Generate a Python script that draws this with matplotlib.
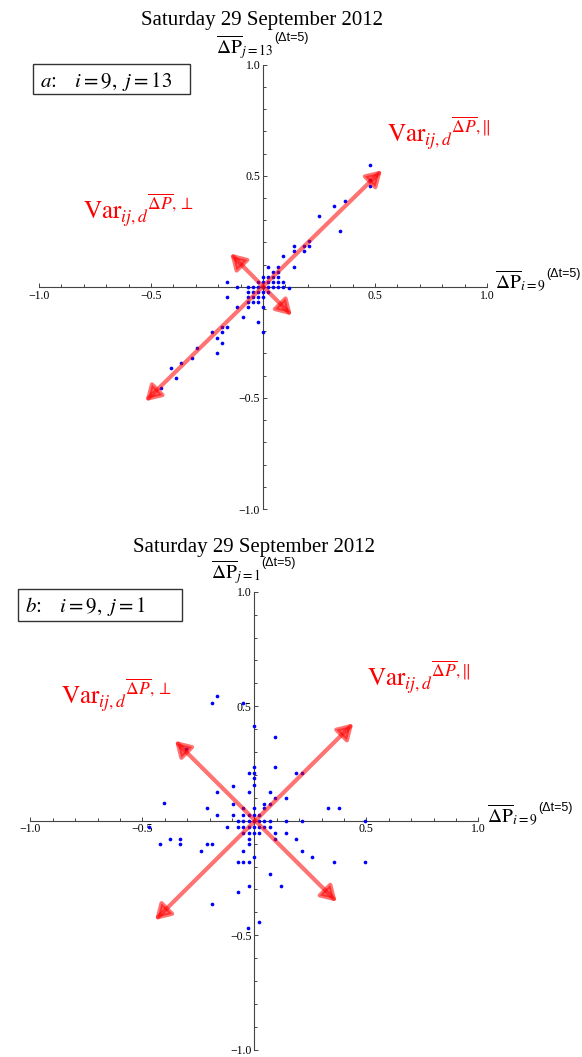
import numpy as np
import matplotlib.pyplot as plt
from matplotlib.patches import FancyArrowPatch, Rectangle

plt.rcParams['font.family'] = ['Liberation Serif', 'DejaVu Serif']
plt.rcParams['mathtext.fontset'] = 'stix'

W, H = 582, 1057

title = "Saturday 29 September 2012"

# panneau a : i = 9, j = 13
xa = [0.479, 0.479, 0.479, 0.319, 0.365, 0.251, 0.342, 0.205, 0.205, 0.182,
      0.137, 0.182, 0.137, 0.091, 0.137, 0.068, 0.023, 0.046, 0.068, 0.023,
      0.046, 0.068, 0.0,
      -0.160, -0.023, 0.0, 0.023, 0.046, 0.068, 0.091,
      -0.114, -0.068, -0.046, -0.023, 0.0, 0.023, 0.046, 0.068, 0.091, 0.114,
      -0.068, -0.046, -0.023, 0.0, 0.023,
      -0.160, -0.068, -0.046, -0.023, 0.0,
      -0.068, -0.046, -0.023,
      -0.114, -0.068, 0.0,
      -0.091, -0.023, 0.0, -0.228, -0.182, -0.160, -0.182, -0.205, -0.182,
      -0.296, -0.205, -0.319, -0.365, -0.410, -0.388, -0.456]
ya = [0.547, 0.479, 0.456, 0.365, 0.388, 0.319, 0.251, 0.205, 0.182, 0.182,
      0.182, 0.160, 0.160, 0.137, 0.091, 0.091, 0.091, 0.068, 0.068, 0.046,
      0.046, 0.046, 0.046,
      0.023, 0.023, 0.023, 0.023, 0.023, 0.023, 0.023,
      0.0, 0.0, 0.0, 0.0, 0.0, 0.0, 0.0, 0.0, 0.0, -0.005,
      -0.023, -0.023, -0.023, -0.023, -0.023,
      -0.046, -0.046, -0.046, -0.046, -0.046,
      -0.068, -0.068, -0.068,
      -0.091, -0.091, -0.091,
      -0.137, -0.160, -0.205, -0.205, -0.205, -0.182, -0.182, -0.228, -0.251,
      -0.274, -0.296, -0.319, -0.342, -0.365, -0.410, -0.456]

# panneau b : i = 9, j = 1
xb = [-0.166, -0.188, -0.049, 0.0, 0.093, -0.306, 0.093, 0.0, -0.024, 0.0,
      0.187, 0.211, 0.0, -0.094, 0.0, -0.166, -0.024, 0.070, 0.093, 0.140,
      -0.401, -0.094, 0.045, 0.070, -0.211, -0.049, 0.0, 0.045, 0.327, 0.377,
      -0.166, -0.094, -0.049, -0.024, 0.0, 0.022,
      -0.072, -0.049, -0.024, 0.0, 0.022, 0.045, 0.070, 0.140, 0.211, 0.496,
      -0.472, -0.121, -0.072, -0.049, -0.024, 0.0, 0.022, 0.045, 0.070,
      -0.049, -0.024, 0.0, 0.022, 0.093, 0.140,
      -0.378, -0.330, -0.024, 0.093, 0.187,
      -0.423, -0.330, -0.211, -0.188, -0.024,
      -0.239, -0.049, 0.211,
      0.257, 0.0,
      -0.072, -0.049, -0.024, 0.354, 0.493,
      0.070, 0.118, -0.024, -0.072, -0.188, 0.022, -0.027]
yb = [0.546, 0.515, 0.515, 0.415, 0.364, 0.312, 0.233, 0.233, 0.207, 0.207,
      0.207, 0.207, 0.185, 0.152, 0.155, 0.126, 0.126, 0.126, 0.100, 0.100,
      0.078, 0.075, 0.075, 0.075, 0.054, 0.054, 0.054, 0.054, 0.054, 0.054,
      0.025, 0.025, 0.025, 0.025, 0.025, 0.025,
      0.0, 0.0, 0.0, 0.0, 0.0, 0.0, 0.0, 0.0, 0.0, 0.0,
      -0.026, -0.026, -0.026, -0.026, -0.026, -0.026, -0.026, -0.026, -0.026,
      -0.052, -0.052, -0.052, -0.052, -0.052, -0.052,
      -0.080, -0.080, -0.080, -0.080, -0.080,
      -0.103, -0.103, -0.103, -0.103, -0.103,
      -0.131, -0.131, -0.131,
      -0.157, -0.157,
      -0.182, -0.182, -0.182, -0.182, -0.182,
      -0.234, -0.286, -0.286, -0.310, -0.364, -0.441, -0.467]

# extrémités des flèches (variance parallèle / perpendiculaire)
fleche_a_par = [(-0.525, -0.515), (0.531, 0.525)]
fleche_a_perp = [(-0.146, 0.150), (0.129, -0.129)]
fleche_b_par = [(-0.443, -0.434), (0.442, 0.425)]
fleche_b_perp = [(-0.354, 0.349), (0.368, -0.354)]

ylab_a = r'$\overline{\Delta\mathrm{P}}_{j{=}13}$'
ylab_b = r'$\overline{\Delta\mathrm{P}}_{j{=}1}$'
xlab = r'$\overline{\Delta\mathrm{P}}_{i{=}9}$'
exposant = '(\u0394t=5)'
var_par = r'$\mathrm{Var}_{ij,d}{}^{\overline{\Delta P},\Vert}$'
var_perp = r'$\mathrm{Var}_{ij,d}{}^{\overline{\Delta P},\perp}$'
box_a = r'$a\!:\ \ \ i=9,\ j=13$'
box_b = r'$b\!:\ \ \ i=9,\ j=1$'


def fig_pos(x, y):
    return x / W, 1 - y / H


def panneau(ax, x, y, fl_par, fl_perp):
    for s in ['top', 'right']:
        ax.spines[s].set_visible(False)
    ax.spines['left'].set_position('zero')
    ax.spines['bottom'].set_position('zero')
    for s in ['left', 'bottom']:
        ax.spines[s].set_color('#444444')
        ax.spines[s].set_linewidth(0.8)
    ax.set_xlim(-1, 1)
    ax.set_ylim(-1, 1)
    ax.set_xticks([-1, -0.5, 0.5, 1])
    ax.set_yticks([-1, -0.5, 0.5, 1])
    ax.set_xticks(np.arange(-1, 1.01, 0.1), minor=True)
    ax.set_yticks(np.arange(-1, 1.01, 0.1), minor=True)
    ax.tick_params(which='both', direction='in', color='#444444', width=0.7,
                   labelsize=8.5, pad=2)
    ax.tick_params(which='major', length=3)
    ax.tick_params(which='minor', length=2)
    ax.patch.set_visible(False)

    ax.scatter(x, y, s=7, color='#0000ff', linewidths=0, zorder=3)
    for p in [fl_par, fl_perp]:
        f = FancyArrowPatch(p[0], p[1],
                            arrowstyle='<|-|>,head_length=0.75,head_width=0.45',
                            mutation_scale=12, color='#ff0000', alpha=0.55,
                            lw=3, shrinkA=0, shrinkB=0, zorder=4)
        ax.add_patch(f)


fig = plt.figure(figsize=(W / 100, H / 100), dpi=100)

ax1 = fig.add_axes([39 / W, 1 - 509 / H, 448 / W, 444.3 / H])
panneau(ax1, xa, ya, fleche_a_par, fleche_a_perp)
ax2 = fig.add_axes([30.3 / W, 1 - 1049.7 / H, 448 / W, 458 / H])
panneau(ax2, xb, yb, fleche_b_par, fleche_b_perp)

# titres
fig.text(*fig_pos(262, 25), title, ha='center', va='baseline', fontsize=15)
fig.text(*fig_pos(254, 552), title, ha='center', va='baseline', fontsize=15)

# étiquettes des axes, exposant (Δt=5) placé après l'indice
fig.canvas.draw()
renderer = fig.canvas.get_renderer()
for x0, y0, lab in [(216, 53, ylab_a), (211, 578, ylab_b),
                    (495, 289, xlab), (487, 823, xlab)]:
    t = fig.text(*fig_pos(x0, y0), lab, ha='left', va='baseline', fontsize=14)
    bb = t.get_window_extent(renderer)
    fig.text(*fig_pos(bb.x1 + 1, y0 - 12), exposant, ha='left', va='baseline',
             fontsize=9, family=['Liberation Sans', 'DejaVu Sans'])

# cadres a / b
for (x0, y0, x1, y1), txt, tx, ty in [((32.7, 64, 190, 94), box_a, 40, 87),
                                      ((17.8, 589, 182, 621), box_b, 25, 612)]:
    r = Rectangle(fig_pos(x0, y1), (x1 - x0) / W, (y1 - y0) / H,
                  transform=fig.transFigure, fill=False, edgecolor='#333333',
                  lw=1)
    fig.patches.append(r)
    fig.text(*fig_pos(tx, ty), txt, ha='left', va='baseline', fontsize=15)

# légendes rouges
fig.text(*fig_pos(387, 143), var_par, color='#ff0000', fontsize=18,
         ha='left', va='baseline')
fig.text(*fig_pos(83, 220), var_perp, color='#ff0000', fontsize=18,
         ha='left', va='baseline')
fig.text(*fig_pos(367, 687), var_par, color='#ff0000', fontsize=18,
         ha='left', va='baseline')
fig.text(*fig_pos(61, 705), var_perp, color='#ff0000', fontsize=18,
         ha='left', va='baseline')

fig.savefig('out.png', dpi=100)
